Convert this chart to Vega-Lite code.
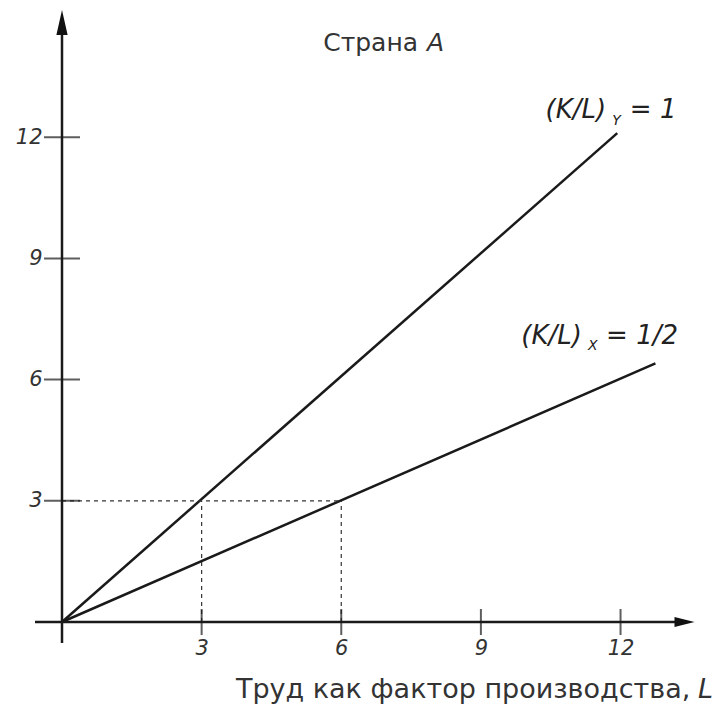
{
  "$schema": "https://vega.github.io/schema/vega-lite/v6.json",
  "width": 633,
  "height": 606,
  "autosize": {"type": "none"},
  "padding": {"left": 62, "top": 16, "right": 22, "bottom": 88},
  "background": "white",
  "config": {"view": {"stroke": null}, "font": "DejaVu Sans"},
  "datasets": {
    "lines": [
      {"series": "Y", "L": 0, "K": 0},
      {"series": "Y", "L": 11.93, "K": 12.1},
      {"series": "X", "L": 0, "K": 0},
      {"series": "X", "L": 12.75, "K": 6.4}
    ],
    "axes": [
      {"name": "L", "x": -0.58, "x2": 13.4, "y": 0, "y2": 0},
      {"name": "K", "x": 0, "x2": 0, "y": -0.52, "y2": 14.8}
    ],
    "guides": [
      {"name": "h3", "x": 0, "x2": 6, "y": 3, "y2": 3},
      {"name": "v3", "x": 3, "x2": 3, "y": 0, "y2": 3},
      {"name": "v6", "x": 6, "x2": 6, "y": 0, "y2": 3}
    ],
    "ticks": [
      {"v": 3}, {"v": 6}, {"v": 9}, {"v": 12}
    ],
    "arrowsY": [{"x": 0, "y": 14.84}],
    "arrowsX": [{"x": 13.375, "y": 0}],
    "labelsRight": [
      {"x": 11.69, "y": 12.67, "text": "(K/L)"},
      {"x": 11.17, "y": 7.08, "text": "(K/L)"}
    ],
    "labels": [
      {"x": 12.2, "y": 12.67, "text": "= 1"},
      {"x": 11.69, "y": 7.08, "text": "= 1/2"}
    ],
    "subs": [
      {"x": 11.82, "y": 12.4, "text": "Y"},
      {"x": 11.3, "y": 6.83, "text": "X"}
    ],
    "titleMain": [{"x": 7.65, "y": 14.33, "text": "Страна"}],
    "titleItalic": [{"x": 7.84, "y": 14.33, "text": "A"}],
    "xtitleMain": [{"x": 13.5, "y": -1.68, "text": "Труд как фактор производства,"}],
    "xtitleItalic": [{"x": 13.99, "y": -1.68, "text": "L"}]
  },
  "layer": [
    {
      "data": {"name": "lines"},
      "mark": {"type": "line", "color": "#1a1a1a", "strokeWidth": 2.5},
      "encoding": {
        "x": {"field": "L", "type": "quantitative", "scale": {"domain": [0, 13.6], "nice": false, "zero": false},
          "axis": {"values": [3, 6, 9, 12], "domain": false, "ticks": false, "grid": false, "labelPadding": 15, "labelFont": "DejaVu Sans", "labelFontStyle": "italic", "labelFontSize": 21, "labelColor": "#333", "title": null}},
        "y": {"field": "K", "type": "quantitative", "scale": {"domain": [0, 15], "nice": false, "zero": false},
          "axis": {"values": [3, 6, 9, 12], "domain": false, "ticks": false, "grid": false, "labelPadding": 20, "labelFont": "DejaVu Sans", "labelFontStyle": "italic", "labelFontSize": 21, "labelColor": "#333", "title": null}},
        "detail": {"field": "series"}
      }
    },
    {
      "data": {"name": "guides"},
      "mark": {"type": "rule", "color": "#333", "strokeWidth": 1.2, "strokeDash": [4, 4]},
      "encoding": {
        "x": {"field": "x", "type": "quantitative"},
        "x2": {"field": "x2"},
        "y": {"field": "y", "type": "quantitative"},
        "y2": {"field": "y2"}
      }
    },
    {
      "data": {"name": "axes"},
      "mark": {"type": "rule", "color": "#1a1a1a", "strokeWidth": 2.5},
      "encoding": {
        "x": {"field": "x", "type": "quantitative"},
        "x2": {"field": "x2"},
        "y": {"field": "y", "type": "quantitative"},
        "y2": {"field": "y2"}
      }
    },
    {
      "data": {"name": "ticks"},
      "mark": {"type": "tick", "orient": "vertical", "color": "#1a1a1a", "size": 26, "thickness": 2},
      "encoding": {
        "x": {"field": "v", "type": "quantitative"},
        "y": {"datum": 0, "type": "quantitative"}
      }
    },
    {
      "data": {"name": "ticks"},
      "mark": {"type": "tick", "orient": "horizontal", "color": "#1a1a1a", "size": 36, "thickness": 2},
      "encoding": {
        "y": {"field": "v", "type": "quantitative"},
        "x": {"datum": 0, "type": "quantitative"}
      }
    },
    {
      "data": {"name": "arrowsY"},
      "mark": {"type": "point", "shape": "M0,-1L-0.45,1L0.45,1Z", "filled": true, "color": "#111", "size": 625, "opacity": 1},
      "encoding": {
        "x": {"field": "x", "type": "quantitative"},
        "y": {"field": "y", "type": "quantitative"}
      }
    },
    {
      "data": {"name": "arrowsX"},
      "mark": {"type": "point", "shape": "M1,0L-1,-0.5L-1,0.5Z", "filled": true, "color": "#111", "size": 400, "opacity": 1},
      "encoding": {
        "x": {"field": "x", "type": "quantitative"},
        "y": {"field": "y", "type": "quantitative"}
      }
    },
    {
      "data": {"name": "labelsRight"},
      "mark": {"type": "text", "align": "right", "baseline": "middle", "fontSize": 26, "fontStyle": "italic", "color": "#222"},
      "encoding": {
        "x": {"field": "x", "type": "quantitative"},
        "y": {"field": "y", "type": "quantitative"},
        "text": {"field": "text"}
      }
    },
    {
      "data": {"name": "labels"},
      "mark": {"type": "text", "align": "left", "baseline": "middle", "fontSize": 26, "fontStyle": "italic", "color": "#222"},
      "encoding": {
        "x": {"field": "x", "type": "quantitative"},
        "y": {"field": "y", "type": "quantitative"},
        "text": {"field": "text"}
      }
    },
    {
      "data": {"name": "subs"},
      "mark": {"type": "text", "align": "left", "baseline": "middle", "fontSize": 14, "fontStyle": "italic", "color": "#222"},
      "encoding": {
        "x": {"field": "x", "type": "quantitative"},
        "y": {"field": "y", "type": "quantitative"},
        "text": {"field": "text"}
      }
    },
    {
      "data": {"name": "titleMain"},
      "mark": {"type": "text", "align": "right", "baseline": "middle", "fontSize": 25, "color": "#333"},
      "encoding": {
        "x": {"field": "x", "type": "quantitative"},
        "y": {"field": "y", "type": "quantitative"},
        "text": {"field": "text"}
      }
    },
    {
      "data": {"name": "titleItalic"},
      "mark": {"type": "text", "align": "left", "baseline": "middle", "fontSize": 25, "fontStyle": "italic", "color": "#333"},
      "encoding": {
        "x": {"field": "x", "type": "quantitative"},
        "y": {"field": "y", "type": "quantitative"},
        "text": {"field": "text"}
      }
    },
    {
      "data": {"name": "xtitleMain"},
      "mark": {"type": "text", "align": "right", "baseline": "middle", "fontSize": 27, "color": "#333"},
      "encoding": {
        "x": {"field": "x", "type": "quantitative"},
        "y": {"field": "y", "type": "quantitative"},
        "text": {"field": "text"}
      }
    },
    {
      "data": {"name": "xtitleItalic"},
      "mark": {"type": "text", "align": "right", "baseline": "middle", "fontSize": 27, "fontStyle": "italic", "color": "#333"},
      "encoding": {
        "x": {"field": "x", "type": "quantitative"},
        "y": {"field": "y", "type": "quantitative"},
        "text": {"field": "text"}
      }
    }
  ]
}
